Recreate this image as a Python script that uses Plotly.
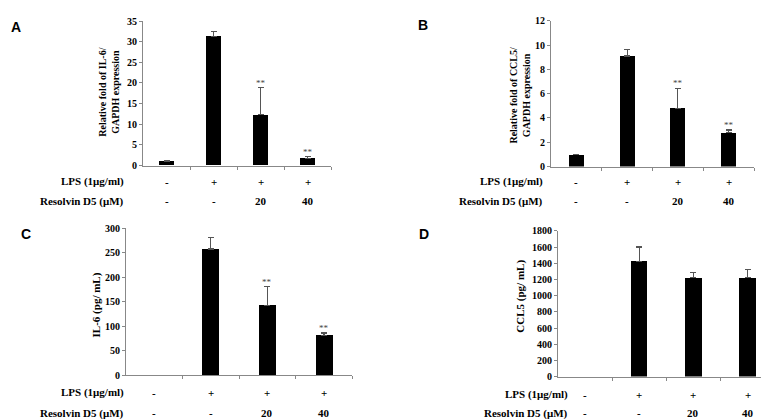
import plotly.graph_objects as go

W, H = 769, 419

# ---- data ----
groups = ["Control", "LPS", "LPS + RvD5 20", "LPS + RvD5 40"]
lps_signs = ["-", "+", "+", "+"]
rvd5_labels = ["-", "-", "20", "40"]

a_mean = [1.0, 31.3, 12.3, 1.8]
a_err = [0.15, 1.2, 6.6, 0.3]
a_sig = ["", "", "**", "**"]

b_mean = [0.97, 9.1, 4.8, 2.8]
b_err = [0.05, 0.55, 1.65, 0.2]
b_sig = ["", "", "**", "**"]

c_mean = [None, 258, 142, 81]
c_err = [None, 24, 39, 5]
c_sig = ["", "", "**", "**"]

d_mean = [None, 1425, 1220, 1220]
d_err = [None, 175, 62, 100]
d_sig = ["", "", "", ""]

SERIF = "Liberation Serif"
SANS = "Liberation Sans"

# panel geometry in pixels: (x0, x1, ytop, ybottom)
panels = [
    dict(name="A", mean=a_mean, err=a_err, sig=a_sig, box=(135, 323, 7.3, 156), ymax=35, dtick=5,
         title="Relative fold of IL-6/<br>GAPDH expression", tpos=(101, 80), tsize=10,
         letter=(8, 13), rows=(172.7, 193), rowx=118),
    dict(name="B", mean=b_mean, err=b_err, sig=b_sig, box=(543, 746, 7, 157), ymax=12, dtick=2,
         title="Relative fold of CCL5/<br>GAPDH expression", tpos=(512, 84), tsize=10,
         letter=(415, 11), rows=(172.7, 193), rowx=537),
    dict(name="C", mean=c_mean, err=c_err, sig=c_sig, box=(118, 344.3, 220.7, 371.7), ymax=300, dtick=50,
         title="IL-6 (pg/ mL)", tpos=(88, 300), tsize=11,
         letter=(17.5, 226), rows=(390, 411), rowx=118),
    dict(name="D", mean=d_mean, err=d_err, sig=d_sig, box=(550, 766.7, 223.3, 373.3), ymax=1800, dtick=200,
         title="CCL5 (pg/ mL)", tpos=(513, 291), tsize=11,
         letter=(416, 226), rows=(392, 411), rowx=562),
]

fig = go.Figure()
annotations = []
layout = {}

for i, p in enumerate(panels):
    k = "" if i == 0 else str(i + 1)
    xa, ya = "x" + k, "y" + k
    x0, x1, yt, yb = p["box"]
    xs = list(range(len(groups)))
    fig.add_trace(go.Bar(
        x=xs, y=p["mean"], xaxis=xa, yaxis=ya, width=0.3,
        marker=dict(color="black", line=dict(color="#333333", width=0)),
        error_y=dict(type="data", symmetric=False, array=p["err"],
                     arrayminus=[0] * len(p["err"]), color="#555555",
                     thickness=1.2, width=3, visible=True),
        showlegend=False, hoverinfo="skip", hovertext=groups,
    ))
    layout["xaxis" + k] = dict(
        domain=[x0 / W, x1 / W], anchor=ya, range=[-0.5, 3.5],
        tickvals=[0.5, 1.5, 2.5, 3.5], showticklabels=False,
        ticks="outside", ticklen=3, tickcolor="#888888",
        showline=True, linecolor="#888888", linewidth=1,
        showgrid=False, zeroline=False, fixedrange=True,
    )
    layout["yaxis" + k] = dict(
        domain=[1 - yb / H, 1 - yt / H], anchor=xa, range=[0, p["ymax"]],
        dtick=p["dtick"], ticks="outside", ticklen=3, tickcolor="#888888",
        showline=True, linecolor="#888888", linewidth=1,
        showgrid=False, zeroline=False, fixedrange=True,
        tickfont=dict(family=SERIF, size=10, color="black", weight="bold"),
    )
    # y title
    annotations.append(dict(
        xref="paper", yref="paper", x=p["tpos"][0] / W, y=1 - p["tpos"][1] / H,
        text=p["title"], textangle=-90, showarrow=False,
        xanchor="center", yanchor="middle",
        font=dict(family=SERIF, size=p["tsize"], color="black", weight="bold"),
    ))
    # panel letter
    annotations.append(dict(
        xref="paper", yref="paper", x=p["letter"][0] / W, y=1 - p["letter"][1] / H,
        text=p["name"], showarrow=False, xanchor="center", yanchor="middle",
        font=dict(family=SANS, size=14, color="black", weight="bold"),
    ))
    # row labels
    for txt, ry in zip(["LPS (1μg/ml)", "Resolvin D5 (μM)"], p["rows"]):
        annotations.append(dict(
            xref="paper", yref="paper", x=p["rowx"] / W, y=1 - ry / H,
            text=txt, showarrow=False, xanchor="right", yanchor="middle",
            font=dict(family=SERIF, size=11, color="black", weight="bold"),
        ))
    # sign rows
    for j in xs:
        annotations.append(dict(
            xref=xa, yref="paper", x=j, y=1 - p["rows"][0] / H,
            text=lps_signs[j], showarrow=False, xanchor="center", yanchor="middle",
            font=dict(family=SERIF, size=11, color="black", weight="bold"),
        ))
        annotations.append(dict(
            xref=xa, yref="paper", x=j, y=1 - p["rows"][1] / H,
            text=rvd5_labels[j], showarrow=False, xanchor="center", yanchor="middle",
            font=dict(family=SERIF, size=11, color="black", weight="bold"),
        ))
        if p["sig"][j]:
            annotations.append(dict(
                xref=xa, yref=ya, x=j, y=p["mean"][j] + p["err"][j],
                text=p["sig"][j], showarrow=False, xanchor="center", yanchor="bottom",
                yshift=-2, font=dict(family=SERIF, size=9, color="#444444"),
            ))

fig.update_layout(
    width=W, height=H, margin=dict(l=0, r=0, t=0, b=0),
    paper_bgcolor="white", plot_bgcolor="white",
    annotations=annotations, bargap=0.0, **layout,
)

fig.write_html("out.html")
